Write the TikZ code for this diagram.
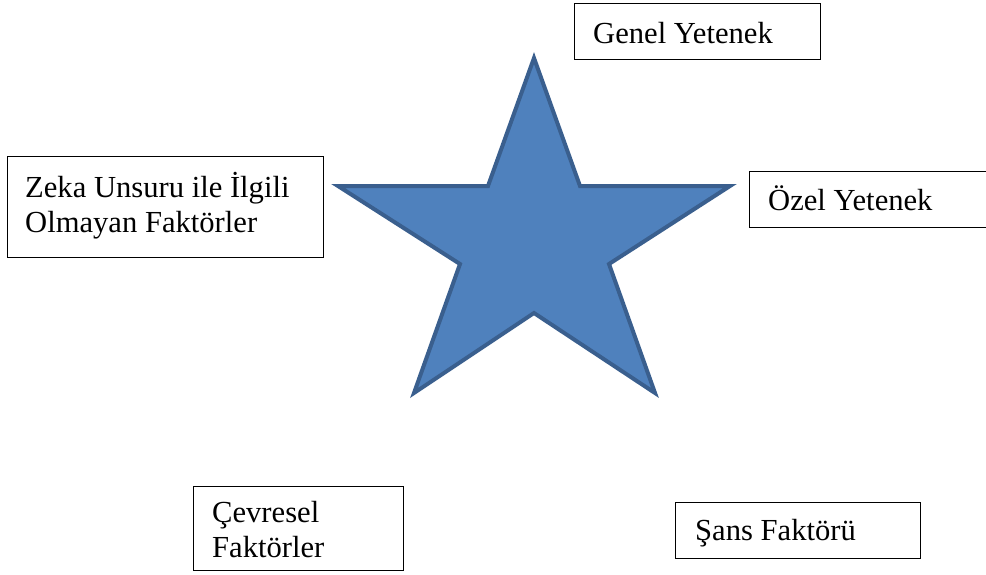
\documentclass[tikz,border=0pt]{standalone}
\usepackage{fontspec}
\setmainfont{Liberation Serif}
\definecolor{starfill}{HTML}{4F81BD}
\definecolor{starline}{HTML}{3A5F8E}
\begin{document}
\begin{tikzpicture}[x=1pt,y=-1pt,
  box/.style={draw=black, line width=1.3pt, inner sep=0pt, anchor=north west},
  lbl/.style={inner sep=0pt, anchor=base west, font=\fontsize{30.6}{35}\selectfont, align=left}]
\clip (0,0) rectangle (986,574);
\fill[white] (0,0) rectangle (986,574);
% star
\filldraw[fill=starfill, draw=starline, line width=4pt, line join=miter, miter limit=20]
  (534,58) -- (580,186) -- (730,186) -- (609,264) -- (655,393) -- (534,313)
  -- (414,393) -- (460,264) -- (338,186) -- (488,186) -- cycle;
% boxes
\node[box, minimum width=246, minimum height=56] (genelbox) at (574,3) {};
\node[box, minimum width=316, minimum height=101] (zekabox) at (7,156) {};
\node[box, minimum width=260, minimum height=56] (ozelbox) at (749,171) {};
\node[box, minimum width=210, minimum height=84] (cevrebox) at (193,486) {};
\node[box, minimum width=245, minimum height=56] (sansbox) at (675,502) {};
% labels (base = baseline of last line)
\node[lbl] (genel) at (593,43) {Genel Yetenek};
\node[lbl] (zeka) at (25,232) {Zeka Unsuru ile İlgili\\Olmayan Faktörler};
\node[lbl] (ozel) at (768,210) {Özel Yetenek};
\node[lbl] (cevre) at (212,557) {Çevresel\\Faktörler};
\node[lbl] (sans) at (695,540) {Şans Faktörü};
\end{tikzpicture}
\end{document}
